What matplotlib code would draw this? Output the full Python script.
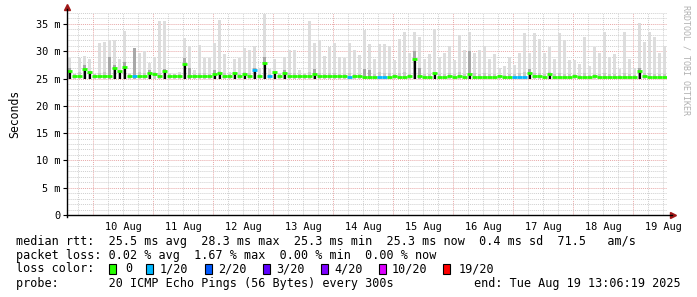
import numpy as np
import matplotlib
matplotlib.use('Agg')
import matplotlib.pyplot as plt
from matplotlib.patches import Rectangle

#------------------------------------------------------------------------------
# time axis: hours since 10 Aug 00:00, one bin = 2 hours
t_start = -10.4
bin_h = 2.0

# top of the light smoke (ms)
smoke_top = [28.8, 25.9, 28.8, 29.1, 28.5, 25.9, 31.5, 31.7, 32.0, 32.0,
             28.5, 33.7, 26.0, 30.5, 29.6, 30.0, 27.8, 29.0, 35.5, 35.6,
             26.0, 25.9, 26.2, 32.5, 31.0, 26.5, 31.2, 28.8, 28.8, 31.5,
             35.8, 29.5, 26.2, 28.5, 28.8, 30.5, 30.2, 31.0, 27.0, 36.8,
             26.8, 28.5, 26.0, 29.0, 30.2, 30.2, 26.5, 26.0, 35.5, 31.5,
             32.0, 29.2, 30.8, 31.5, 29.0, 28.8, 31.5, 30.2, 29.3, 33.8,
             31.3, 28.5, 31.3, 31.3, 31.0, 28.3, 32.3, 33.5, 29.6, 33.5,
             32.6, 28.5, 29.4, 34.1, 29.0, 29.6, 31.0, 28.3, 33.0, 30.3,
             33.5, 29.6, 30.2, 31.0, 28.5, 29.4, 27.0, 27.3, 29.0, 27.5,
             29.6, 33.3, 29.6, 33.3, 32.3, 29.6, 30.8, 28.5, 33.3, 32.0,
             28.3, 28.3, 27.6, 32.6, 27.3, 30.8, 29.6, 33.5, 29.0, 29.4,
             26.8, 33.5, 28.5, 27.0, 35.2, 31.6, 33.5, 32.6, 29.6, 31.0]

# top of the darker smoke band (ms)
smoke_mid = [27.0, 25.8, 26.2, 27.5, 26.4, 25.8, 26.0, 26.2, 29.0, 27.5,
             26.3, 28.0, 25.8, 30.5, 26.2, 26.0, 26.5, 26.2, 26.0, 26.8,
             25.8, 25.8, 25.9, 28.8, 27.0, 25.9, 26.0, 26.0, 25.9, 26.5,
             26.3, 26.0, 25.9, 26.2, 25.9, 26.2, 26.0, 27.0, 25.9, 29.0,
             25.9, 26.2, 25.8, 26.5, 26.0, 26.0, 25.8, 25.8, 26.2, 26.8,
             26.0, 25.9, 26.0, 26.0, 25.9, 25.9, 26.0, 25.9, 25.9, 26.8,
             26.5, 25.9, 26.2, 26.0, 26.0, 25.8, 26.0, 26.2, 25.9, 30.0,
             27.0, 25.8, 25.9, 26.2, 25.9, 25.9, 26.0, 25.8, 26.2, 25.9,
             30.0, 26.0, 25.9, 26.0, 25.8, 25.9, 25.7, 25.7, 25.9, 25.8,
             26.0, 26.2, 26.8, 26.0, 26.0, 25.9, 26.2, 25.8, 26.0, 25.9,
             25.8, 25.8, 25.7, 26.0, 25.7, 25.9, 25.8, 26.0, 25.8, 25.8,
             25.7, 26.0, 25.8, 25.7, 27.0, 26.0, 26.0, 25.9, 25.8, 25.9]

# median rtt (ms)
median = [26.3, 25.4, 25.4, 26.7, 26.2, 25.4, 25.4, 25.4, 25.5, 27.0,
          26.4, 27.1, 25.4, 25.4, 25.4, 25.5, 26.0, 25.8, 25.4, 26.3,
          25.4, 25.4, 25.4, 27.6, 25.5, 25.4, 25.4, 25.5, 25.4, 25.9,
          26.0, 25.5, 25.4, 26.0, 25.4, 25.9, 25.4, 26.5, 25.4, 27.9,
          25.5, 26.2, 25.4, 26.0, 25.5, 25.4, 25.4, 25.4, 25.4, 25.9,
          25.4, 25.4, 25.5, 25.4, 25.4, 25.4, 25.3, 25.4, 25.4, 25.3,
          25.3, 25.3, 25.3, 25.3, 25.3, 25.4, 25.3, 25.3, 25.4, 28.5,
          25.4, 25.3, 25.3, 26.0, 25.3, 25.3, 25.4, 25.3, 25.4, 25.3,
          25.9, 25.3, 25.3, 25.3, 25.3, 25.3, 25.4, 25.3, 25.3, 25.3,
          25.3, 25.3, 26.0, 25.4, 25.4, 25.3, 25.9, 25.3, 25.3, 25.3,
          25.3, 25.4, 25.3, 25.3, 25.3, 25.4, 25.3, 25.3, 25.3, 25.3,
          25.3, 25.3, 25.3, 25.3, 26.3, 25.4, 25.3, 25.3, 25.3, 25.3]

# loss class per bin (index into loss_colors)
loss = [0] * 120
for i in [13, 37, 40, 56, 62, 63, 89, 90, 91]:
    loss[i] = 1

loss_names = ['0', '1/20', '2/20', '3/20', '4/20', '10/20', '19/20']
loss_colors = ['#26ff00', '#00b8ff', '#0059ff', '#5e00ff', '#7e00ff', '#dd00ff', '#ff0000']

day_labels = ['10 Aug', '11 Aug', '12 Aug', '13 Aug', '14 Aug',
              '15 Aug', '16 Aug', '17 Aug', '18 Aug', '19 Aug']
y_ticks = [0, 5, 10, 15, 20, 25, 30, 35]
y_labels = ['0', '5 m', '10 m', '15 m', '20 m', '25 m', '30 m', '35 m']

rtt_line = 'median rtt:  25.5 ms avg  28.3 ms max  25.3 ms min  25.3 ms now  0.4 ms sd  71.5   am/s'
loss_line = 'packet loss: 0.02 % avg  1.67 % max  0.00 % min  0.00 % now'
probe_line = 'probe:       20 ICMP Echo Pings (56 Bytes) every 300s'
end_line = 'end: Tue Aug 19 13:06:19 2025'

#------------------------------------------------------------------------------
W, H = 697, 297
mono = 'DejaVu Sans Mono'
fig = plt.figure(figsize=(W / 100, H / 100), dpi=100)
ax = fig.add_axes([67 / W, 82 / H, 600 / W, 202 / H])
x_end = t_start + 240
ax.set_xlim(t_start, x_end)
ax.set_ylim(0, 37)

# grid
for h in np.arange(-6, x_end, 6):
    if h % 24 == 0:
        ax.axvline(h, color='#e8a8a8', lw=0.7, ls=(0, (1, 1)), zorder=0)
    else:
        ax.axvline(h, color='#cfcfcf', lw=0.7, ls=(0, (1, 1)), zorder=0)
for v in range(1, 38):
    if v % 5 == 0:
        ax.axhline(v, color='#e8a8a8', lw=0.7, ls=(0, (1, 1)), zorder=0)
    else:
        ax.axhline(v, color='#cfcfcf', lw=0.7, ls=(0, (1, 1)), zorder=0)

# smoke
x0 = t_start + bin_h * np.arange(len(median))
base = 25.0
ax.bar(x0 + 0.3, np.array(smoke_top) - base, bottom=base, width=bin_h * 0.7, align='edge',
       color='#dddddd', lw=0, zorder=1)
mid = np.array(smoke_mid)
ax.bar(x0 + 0.3, mid - base, bottom=base, width=bin_h * 0.7, align='edge',
       color=['#a8a8a8' if m > 26.4 else '#c8c8c8' for m in mid], lw=0, zorder=2)

# median with loss colour
med = np.array(median)
spk = med > 25.8
ax.vlines(x0[spk] + bin_h * 0.5, base, med[spk], color='black', lw=1.6, zorder=3)
ax.hlines(med, x0, x0 + bin_h, colors=[loss_colors[k] for k in loss], lw=2.0, zorder=4)

# axes
for s in ['top', 'right', 'left', 'bottom']:
    ax.spines[s].set_visible(False)
ax.plot([0, 0], [-0.01, 1.02], transform=ax.transAxes, color='black', lw=1, clip_on=False, zorder=5)
ax.plot([0, 1.008], [0, 0], transform=ax.transAxes, color='black', lw=1, clip_on=False, zorder=5)
ax.plot([0], [1.03], marker='^', ms=4, color='#a01818', transform=ax.transAxes, clip_on=False)
ax.plot([1.01], [0], marker='>', ms=4, color='#a01818', transform=ax.transAxes, clip_on=False)

ax.set_xticks([12 + 24 * i for i in range(len(day_labels))])
ax.set_xticklabels(day_labels, fontsize=7.4, family=mono)
ax.tick_params(axis='x', length=0, pad=5)
ax.set_yticks(y_ticks)
ax.set_yticklabels(y_labels, fontsize=7.4, family=mono)
ax.tick_params(axis='y', length=3, width=0.8, pad=2)
ax.set_ylabel('Seconds', fontsize=8.3, family=mono, labelpad=10)

fig.text(686 / W, 1 - 60 / H, 'RRDTOOL / TOBI OETIKER', rotation=270, fontsize=6,
         family=mono, color='#b0b0b0', ha='center', va='center')

# legend block
fs = 8.5
fig.text(16 / W, 1 - 241 / H, rtt_line, fontsize=fs, family=mono, va='center')
fig.text(16 / W, 1 - 255 / H, loss_line, fontsize=fs, family=mono, va='center')
fig.text(16 / W, 1 - 269 / H, 'loss color:', fontsize=fs, family=mono, va='center')
fig.text(16 / W, 1 - 283 / H, probe_line, fontsize=fs, family=mono, va='center')
fig.text(681 / W, 1 - 283 / H, end_line, fontsize=fs, family=mono, va='center', ha='right')

box_x = [109, 146, 205, 263, 321, 379, 443]
lab_x = [125, 160, 218, 276, 334, 392, 459]
for bx, lx, c, n in zip(box_x, lab_x, loss_colors, loss_names):
    fig.add_artist(Rectangle((bx / W, 1 - 274 / H), 7 / W, 10 / H, transform=fig.transFigure,
                             facecolor=c, edgecolor='black', lw=0.8))
    fig.text(lx / W, 1 - 269 / H, n, fontsize=fs, family=mono, va='center')

fig.savefig('out.png', dpi=100)
